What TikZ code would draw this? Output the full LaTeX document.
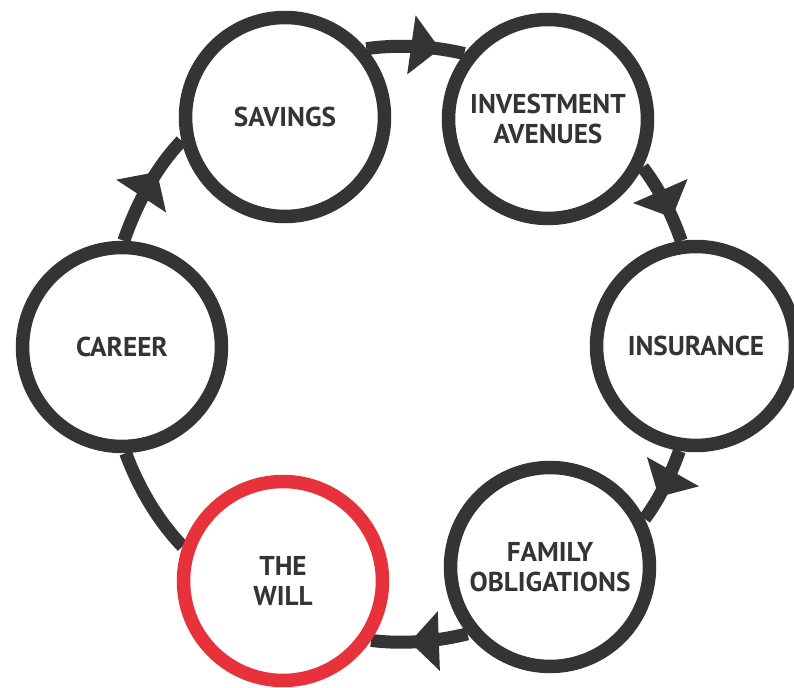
\documentclass[tikz,border=0pt]{standalone}
\usepackage{fontspec}
\setmainfont{PT Sans}
\usetikzlibrary{arrows.meta,decorations.markings,backgrounds}
\definecolor{ringgray}{HTML}{343434}
\definecolor{willred}{HTML}{E8323B}
\tikzset{
  stage/.style={circle, draw=ringgray, fill=white, line width=0.27cm,
    minimum size=3.98cm, inner sep=0pt, text=ringgray, align=center,
    font=\bfseries\fontsize{15.5}{17.5}\selectfont},
  redstage/.style={stage, draw=willred},
  link/.style={draw=ringgray, line width=0.26cm, looseness=0.85},
  arrowat/.style={postaction={decorate}, decoration={markings,
    mark=at position #1 with {\arrow[ringgray]{Triangle[length=0.58cm,width=1.16cm]}}}}
}
\begin{document}
\begin{tikzpicture}[x=0.02cm,y=0.02cm]
\useasboundingbox (0,0) rectangle (794,688);
\node[stage] (savings) at (285,571) {SAVINGS};
\node[stage] (invest) at (548,569) {INVESTMENT\\AVENUES};
\node[stage] (insur) at (696,342) {INSURANCE};
\node[stage] (family) at (550,121) {FAMILY\\OBLIGATIONS};
\node[redstage] (will) at (283,107) {THE\\WILL};
\node[stage] (career) at (122,341) {CAREER};
\begin{pgfonlayer}{background}
\fill[white] (0,0) rectangle (794,688);
\path[link, arrowat=0.75] (savings.40.8) to[out=8.1, in=166.7] (invest.142.1);
\path[link, arrowat=0.7] (invest.-27.8) to[out=-52.5, in=109.1] (insur.98.2);
\path[link, arrowat=0.66] (insur.261) to[out=-109.9, in=53.2] (family.27.6);
\path[link, arrowat=0.6] (family.219.5) to[out=-166, in=-7.3] (will.-34.7);
\path[link] (will.161.2) to[out=133.8, in=-69.7] (career.-88);
\path[link, arrowat=0.66] (career.89.3) to[out=70.9, in=226.4] (savings.193.7);
\end{pgfonlayer}
\end{tikzpicture}
\end{document}
